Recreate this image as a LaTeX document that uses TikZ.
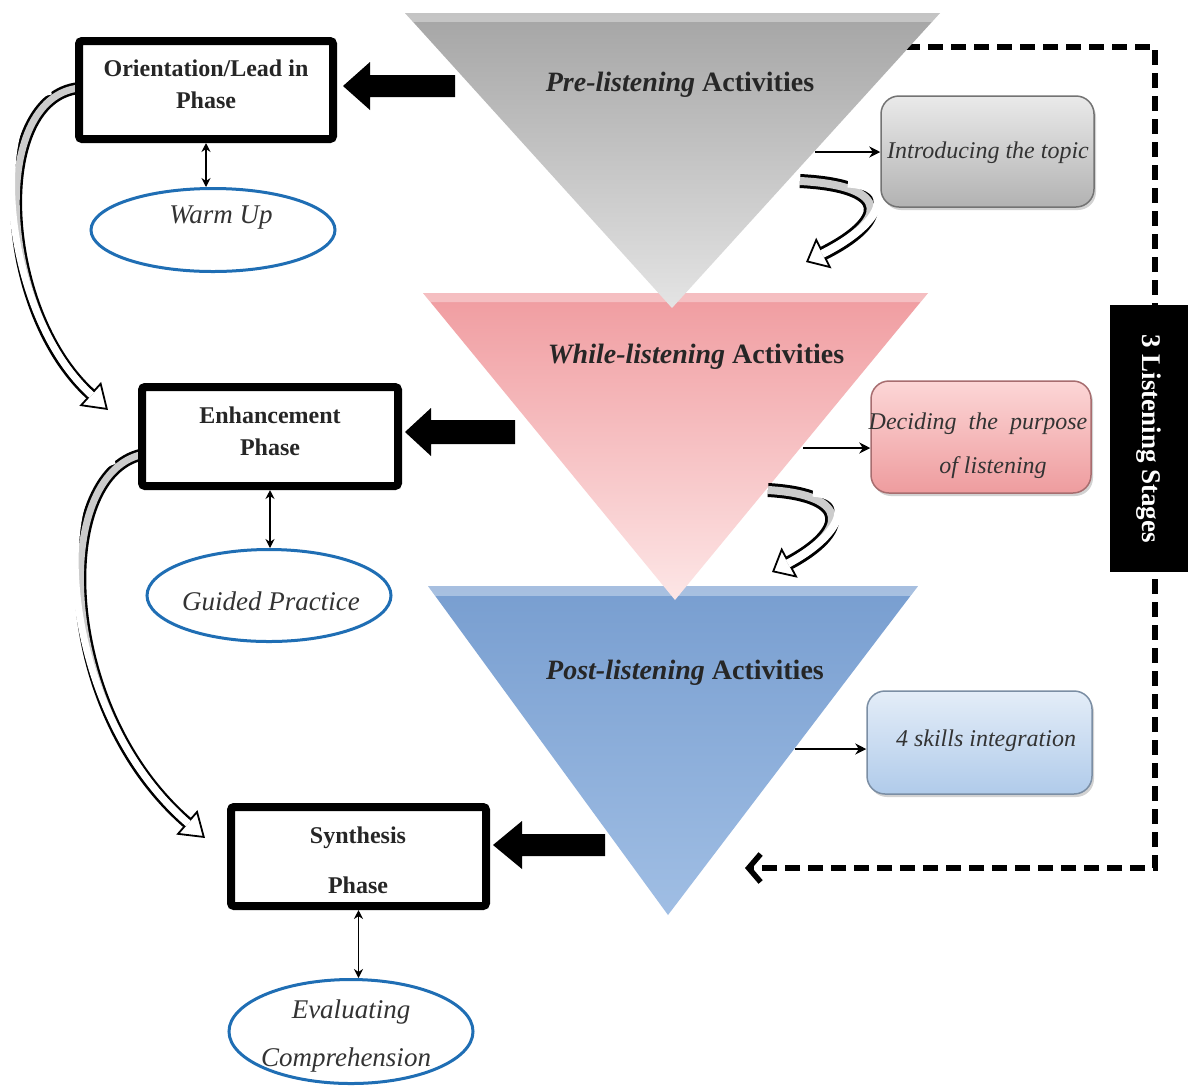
\documentclass[tikz,border=0pt]{standalone}
\usepackage{fontspec}
\setmainfont{Liberation Serif}
\usetikzlibrary{arrows.meta,shapes.geometric,calc,shadows}
\definecolor{eblue}{RGB}{31,110,180}
\definecolor{gA}{RGB}{165,165,165}
\definecolor{gB}{RGB}{190,190,190}
\definecolor{gC}{RGB}{228,228,228}
\definecolor{pA}{RGB}{240,156,160}
\definecolor{pB}{RGB}{246,190,192}
\definecolor{pC}{RGB}{253,230,230}
\definecolor{bA}{RGB}{120,158,208}
\definecolor{bB}{RGB}{142,176,220}
\definecolor{bC}{RGB}{160,190,228}
\definecolor{rgA}{RGB}{234,234,234}
\definecolor{rgB}{RGB}{178,178,178}
\definecolor{rpA}{RGB}{252,214,214}
\definecolor{rpB}{RGB}{238,156,158}
\definecolor{rbA}{RGB}{228,237,248}
\definecolor{rbB}{RGB}{176,203,234}
\tikzset{
  phase/.style={draw=black, line width=8pt, rounded corners=3pt, fill=white,
    minimum width=254pt, minimum height=98pt, inner sep=0pt},
  phasetext/.style={font=\fontsize{24}{32}\selectfont\bfseries, align=center, text=black!85},
  ell/.style={ellipse, draw=eblue, line width=3pt, fill=white, inner sep=0pt,
    minimum width=244pt, minimum height=83pt},
  elltext/.style={font=\fontsize{27}{48}\selectfont\itshape, align=center, text=black!80},
  actbox/.style={rounded corners=18pt, line width=1.5pt, inner sep=0pt,
    drop shadow={opacity=0.35,shadow xshift=2pt,shadow yshift=-3pt}},
  acttext/.style={font=\fontsize{24}{44}\selectfont\itshape, align=center, text=black!80},
  titletext/.style={font=\fontsize{28}{32}\selectfont\bfseries, text=black!85},
  dbl/.style={line width=1.8pt, {Stealth[length=9pt,width=9pt]}-{Stealth[length=9pt,width=9pt]}},
  smallarr/.style={line width=2.8pt, -{Stealth[length=11pt,width=11pt]}},
  tube/.style={line width=12pt, black, -{Triangle[length=24pt,width=32pt,line width=1.8pt,fill=white]}},
  tubein/.style={line width=7pt, shorten >=22pt},
  rib/.style={line width=14pt, black, -{Triangle[length=20pt,width=34pt,line width=1.8pt,fill=white]}},
  ribin/.style={line width=8pt, shorten >=18pt},
  bigarr/.style={fill=black},
}
\begin{document}
\begin{tikzpicture}[x=1pt,y=-1pt]
\useasboundingbox (0,0) rectangle (1188,1088);
\fill[white] (0,0) rectangle (1188,1088);

% dashed loop
\coordinate (d0) at (905,47);
\coordinate (d1) at (1155,47);
\coordinate (d2) at (1155,868);
\coordinate (d3) at (745,868);
\draw[line width=5.5pt, dash pattern=on 15pt off 8pt, -{Straight Barb[length=12pt,width=28pt]}]
  (d0) -- (d1) -- (d2) -- (d3);

% triangles
\coordinate (t3a) at (428,586); \coordinate (t3b) at (918,586); \coordinate (t3c) at (668,915);
\coordinate (t2a) at (423,293); \coordinate (t2b) at (928,293); \coordinate (t2c) at (675,600);
\coordinate (t1a) at (405,13);  \coordinate (t1b) at (940,13);  \coordinate (t1c) at (672,308);
\shade[top color=bA, middle color=bB, bottom color=bC] (t3a) -- (t3b) -- (t3c) -- cycle;
\fill[white, opacity=0.35] (t3a) -- (t3b) -- ($(t3b)!0.03!(t3c)$) -- ($(t3a)!0.03!(t3c)$) -- cycle;
\shade[top color=pA, middle color=pB, bottom color=pC] (t2a) -- (t2b) -- (t2c) -- cycle;
\fill[white, opacity=0.35] (t2a) -- (t2b) -- ($(t2b)!0.03!(t2c)$) -- ($(t2a)!0.03!(t2c)$) -- cycle;
\shade[top color=gA, middle color=gB, bottom color=gC] (t1a) -- (t1b) -- (t1c) -- cycle;
\fill[white, opacity=0.35] (t1a) -- (t1b) -- ($(t1b)!0.03!(t1c)$) -- ($(t1a)!0.03!(t1c)$) -- cycle;

\node[titletext] (p1) at (680,85) {\textit{Pre-listening} Activities};
\node[titletext] (p2) at (696,357) {\textit{While-listening} Activities};
\node[titletext] (p3) at (685,673) {\textit{Post-listening} Activities};

% small ribbons
\coordinate (s1a) at (800,181); \coordinate (s1b) at (806,262);
\coordinate (s2a) at (768,490); \coordinate (s2b) at (772,572);
\draw[rib] (s1a) .. controls +(95,5) and +(80,-40) .. (s1b);
\draw[ribin, gray!40] (s1a) .. controls +(95,5) and +(80,-40) .. (s1b);
\draw[ribin, white, shorten <=48pt] (s1a) .. controls +(95,5) and +(80,-40) .. (s1b);
\draw[rib] (s2a) .. controls +(85,5) and +(75,-40) .. (s2b);
\draw[ribin, gray!40] (s2a) .. controls +(85,5) and +(75,-40) .. (s2b);
\draw[ribin, white, shorten <=45pt] (s2a) .. controls +(85,5) and +(75,-40) .. (s2b);

% activity boxes
\node[actbox, draw=black!55, top color=rgA, bottom color=rgB, minimum width=213pt, minimum height=111pt]
  (r1) at (987.5,151.5) {};
\node[acttext] (r1t) at (988,153) {Introducing the topic};
\node[actbox, draw=rpB!70!black, top color=rpA, bottom color=rpB, minimum width=220pt, minimum height=112pt]
  (r2) at (981,437) {};
\node[acttext] (r2t) at (978,446) {Deciding \ the \ purpose\\\hspace*{30pt}of listening};
\node[actbox, draw=rbB!70!black, top color=rbA, bottom color=rbB, minimum width=225pt, minimum height=103pt]
  (r3) at (979.5,742.5) {};
\node[acttext] (r3t) at (986,741) {4 skills integration};

\coordinate (m1) at (815,152);
\coordinate (m2) at (803,448);
\coordinate (m3) at (795,749);
\draw[smallarr] (m1) -- (m1 -| r1.west);
\draw[smallarr] (m2) -- (m2 -| r2.west);
\draw[smallarr] (m3) -- (m3 -| r3.west);

% phase boxes (positions)
\coordinate (b1c) at (206,90);
\coordinate (b2c) at (270,436.5);
\coordinate (b3c) at (358.5,856.5);
\coordinate (l1e) at (108,410);
\coordinate (l2e) at (205,838);

% left curved tubes
\draw[tube] ($(b1c)+(-127,-2)$) .. controls +(-90,10) and +(-110,-100) .. (l1e);
\draw[tubein, gray!40] ($(b1c)+(-127,-2)$) .. controls +(-90,10) and +(-110,-100) .. (l1e);
\draw[tubein, white, shorten <=28pt] ($(b1c)+(-127,-2)$) .. controls +(-90,10) and +(-110,-100) .. (l1e);
\draw[tube] ($(b2c)+(-128,18)$) .. controls +(-90,20) and +(-150,-130) .. (l2e);
\draw[tubein, gray!40] ($(b2c)+(-128,18)$) .. controls +(-90,20) and +(-150,-130) .. (l2e);
\draw[tubein, white, shorten <=28pt] ($(b2c)+(-128,18)$) .. controls +(-90,20) and +(-150,-130) .. (l2e);

\node[phase] (b1) at (b1c) {};
\node[phasetext] (b1t) at (206,84) {Orientation/Lead in\\Phase};
\node[phase, minimum width=256pt, minimum height=99pt] (b2) at (b2c) {};
\node[phasetext] (b2t) at (270,431) {Enhancement\\Phase};
\node[phase, minimum width=255pt, minimum height=99pt] (b3) at (b3c) {};
\node[phasetext, font=\fontsize{24}{50}\selectfont\bfseries] (b3t) at (358,860) {Synthesis\\Phase};

% big black arrows
\coordinate (k1) at (343,86);
\coordinate (k2) at (405,432);
\coordinate (k3) at (493,845);
\fill[bigarr] (k1) -- ++(27,-24) -- ++(0,13) -- ++(85,0) -- ++(0,22) -- ++(-85,0) -- ++(0,13) -- cycle;
\fill[bigarr] (k2) -- ++(26,-24) -- ++(0,12) -- ++(84,0) -- ++(0,24) -- ++(-84,0) -- ++(0,12) -- cycle;
\fill[bigarr] (k3) -- ++(29,-24) -- ++(0,13) -- ++(83,0) -- ++(0,22) -- ++(-83,0) -- ++(0,13) -- cycle;

% ellipses
\node[ell] (e1) at (213,230) {};
\node[elltext] (e1t) at (221,218) {Warm Up};
\node[ell, minimum height=92pt] (e2) at (269,595.5) {};
\node[elltext] (e2t) at (271,601) {Guided Practice};
\node[ell, minimum height=104pt] (e3) at (351,1031.5) {};
\node[elltext] (e3t) at (346,1036) {\hspace*{10pt}Evaluating\\Comprehension};

\draw[dbl] (b1.south) -- (b1.south |- e1.north);
\draw[dbl] (b2.south) -- (b2.south |- e2.north);
\draw[dbl] (b3.south) -- (b3.south |- e3.north);

% label box
\node[fill=black, text=white, rotate=-90, minimum width=267pt, minimum height=78pt, inner sep=0pt,
  font=\fontsize{27}{30}\selectfont\bfseries] (lab) at (1149,438.5) {3 Listening Stages};
\end{tikzpicture}
\end{document}
